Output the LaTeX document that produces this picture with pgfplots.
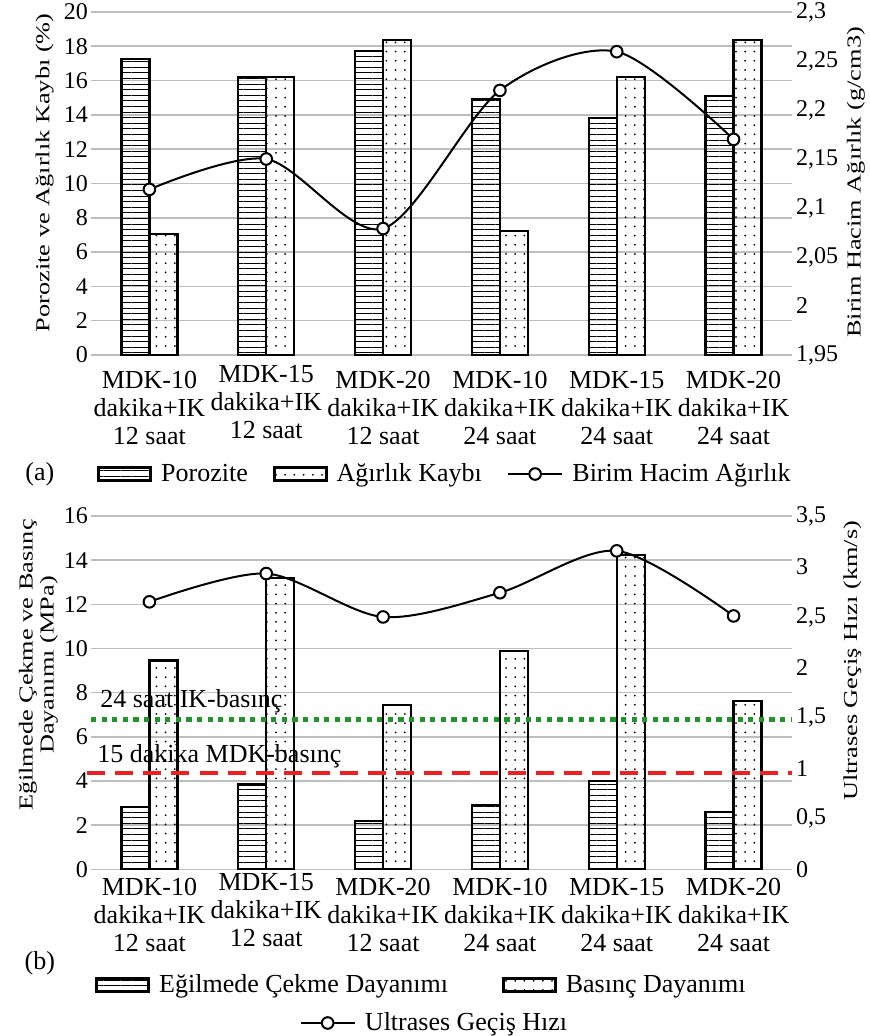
\documentclass[border=0pt]{standalone}
\usepackage{fontspec}
\setmainfont{Liberation Serif}
\newfontfamily\rotfont{Liberation Serif}[FakeStretch=1.33]
\usepackage{pgfplots}
\pgfplotsset{compat=1.18}
\usetikzlibrary{patterns,patterns.meta}

\definecolor{gridgray}{RGB}{190,190,190}
\definecolor{refgreen}{RGB}{30,150,40}
\definecolor{refred}{RGB}{240,30,30}

\newcommand{\lbl}{\fontsize{13}{14}\selectfont}
\newcommand{\tck}{\fontsize{12}{13}\selectfont}

\pgfplotsset{
  panel/.style={
    scale only axis, width=350.5pt,
    xmin=-0.5, xmax=5.5, clip=false,
    axis line style={draw=none},
    major tick length=0pt, tick style={draw=none},
    tick label style={font=\tck},
    /pgf/number format/assume math mode=true,
    /pgf/number format/use comma,
    ylabel style={font=\rotfont\fontsize{9.9}{10.5}\selectfont, align=center, anchor=center},
    legend style={draw=none, fill=none, font=\lbl, inner sep=0pt,
      nodes={inner xsep=0pt, inner ysep=1pt},
      /tikz/every odd column/.append style={column sep=4.5pt}},
  },
  leftpanel/.style={panel,
    ymajorgrids, grid style={gridgray, line width=0.8pt},
    xtick={0,2,3,4,5},
    extra x ticks={1},
    xticklabel style={font=\lbl, align=center},
    yticklabel style={xshift=2pt},
  },
  rightpanel/.style={panel,
    axis x line=none, axis y line*=right,
    yticklabel style={xshift=-1.5pt},
  },
  hbar/.style={draw=black, line width=1.1pt, pattern={Lines[angle=0,distance=2.8pt,line width=0.45pt]}},
  dbar/.style={draw=black, line width=1.1pt, pattern={Dots[distance=4.6pt,radius=0.5pt]}},
  box legend/.style={legend image code/.code={\draw[##1, line width=1.4pt] (0pt,-3.3pt) rectangle (26pt,3.3pt);}},
  bar1/.style={ybar, bar width=14pt, bar shift=-7pt, hbar, box legend},
  bar2/.style={ybar, bar width=14pt, bar shift=7pt, dbar, box legend},
  ser/.style={black, line width=1pt, smooth, mark=*, mark size=2.9pt,
    mark options={fill=white, draw=black, line width=1pt}},
  ser legend/.style={legend image code/.code={\draw[mark repeat=2,mark phase=2,##1,line width=1.3pt] plot coordinates {(0pt,0pt) (13.5pt,0pt) (27pt,0pt)};}},
}

\begin{document}
\begin{tikzpicture}
\useasboundingbox (0,0) rectangle (434.5pt,-518pt);

% ---- (a)
\begin{axis}[leftpanel, at={(45.5pt,-177.5pt)}, anchor=south west, height=171.5pt,
  ymin=0, ymax=20, ytick={0,2,...,20},
  xticklabels={{MDK-10\\dakika+IK\\12 saat},{MDK-20\\dakika+IK\\12 saat},{MDK-10\\dakika+IK\\24 saat},{MDK-15\\dakika+IK\\24 saat},{MDK-20\\dakika+IK\\24 saat}},
  extra x tick labels={{MDK-15\\dakika+IK\\12 saat}},
  xticklabel style={yshift=-4.5pt},
  extra x tick style={xticklabel style={yshift=3pt}},
  ylabel={Porozite ve Ağırlık Kaybı (\%)},
  ylabel style={at={(axis description cs:-0.066,0.531)}},
]
\addplot[bar1] coordinates {(0,17.24) (1,16.19) (2,17.74) (3,14.93) (4,13.8) (5,15.12)};
\addplot[bar2] coordinates {(0,7.04) (1,16.23) (2,18.37) (3,7.23) (4,16.23) (5,18.37)};
\end{axis}
\begin{axis}[rightpanel, at={(45.5pt,-177.5pt)}, anchor=south west, height=171.5pt,
  ymin=1.95, ymax=2.3, ytick={1.95,2,2.05,2.1,2.15,2.2,2.25,2.3},
  ylabel={Birim Hacim Ağırlık (g/cm3)},
  ylabel style={at={(axis description cs:1.091,0.503)}},
  legend columns=3,
  legend style={at={(axis description cs:0.0086,-0.347)}, anchor=west,
    /tikz/every even column/.append style={column sep=12.5pt}},
]
\addlegendimage{hbar, box legend}
\addlegendentry{Porozite}
\addlegendimage{dbar, box legend}
\addlegendentry{Ağırlık Kaybı}
\addplot[ser, ser legend] coordinates {(0,2.119) (1,2.150) (2,2.079) (3,2.220) (4,2.2595) (5,2.170)};
\addlegendentry{Birim Hacim Ağırlık}
\node[font=\lbl] at (axis description cs:-0.073,-0.347) {(a)};
\end{axis}

% ---- (b)
\begin{axis}[leftpanel, at={(45.5pt,-434.65pt)}, anchor=south west, height=176.65pt,
  ymin=0, ymax=16, ytick={0,2,...,16},
  xticklabels={{MDK-10\\dakika+IK\\12 saat},{MDK-20\\dakika+IK\\12 saat},{MDK-10\\dakika+IK\\24 saat},{MDK-15\\dakika+IK\\24 saat},{MDK-20\\dakika+IK\\24 saat}},
  extra x tick labels={{MDK-15\\dakika+IK\\12 saat}},
  xticklabel style={yshift=-1pt},
  extra x tick style={xticklabel style={yshift=2.5pt}},
  ylabel={Eğilmede Çekme ve Basınç\\Dayanımı (MPa)},
  ylabel style={at={(axis description cs:-0.075,0.578)}},
  legend columns=2,
  legend style={at={(axis description cs:0.0057,-0.3275)}, anchor=west,
    /tikz/every even column/.append style={column sep=27pt}},
]
\addplot[bar1] coordinates {(0,2.81) (1,3.84) (2,2.19) (3,2.92) (4,4.0) (5,2.58)};
\addlegendentry{Eğilmede Çekme Dayanımı}
\addplot[bar2] coordinates {(0,9.46) (1,13.19) (2,7.45) (3,9.90) (4,14.25) (5,7.64)};
\addlegendentry{Basınç Dayanımı}
\addplot[refgreen, line width=2.6pt, dash pattern=on 2.6pt off 2.7pt, forget plot] coordinates {(-0.5,6.8) (5.5,6.8)};
\addplot[refred, line width=2pt, dash pattern=on 9pt off 5pt, forget plot] coordinates {(-0.53,4.38) (5.5,4.38)};
\node[font=\lbl, anchor=west, inner sep=0pt] at (axis cs:-0.423,7.6) {24 saat IK-basınç};
\node[font=\lbl, anchor=west, inner sep=0pt] at (axis cs:-0.449,5.1) {15 dakika MDK-basınç};
\end{axis}
\begin{axis}[rightpanel, at={(45.5pt,-434.65pt)}, anchor=south west, height=176.65pt,
  ymin=0, ymax=3.5, ytick={0,0.5,1,1.5,2,2.5,3,3.5},
  ylabel={Ultrases Geçiş Hızı (km/s)},
  ylabel style={at={(axis description cs:1.086,0.59)}},
  legend style={at={(axis description cs:0.2967,-0.435)}, anchor=west},
]
\addplot[ser, ser legend] coordinates {(0,2.65) (1,2.93) (2,2.50) (3,2.74) (4,3.155) (5,2.51)};
\addlegendentry{Ultrases Geçiş Hızı}
\node[font=\lbl] at (axis description cs:-0.073,-0.265) {(b)};
\end{axis}
\end{tikzpicture}
\end{document}
